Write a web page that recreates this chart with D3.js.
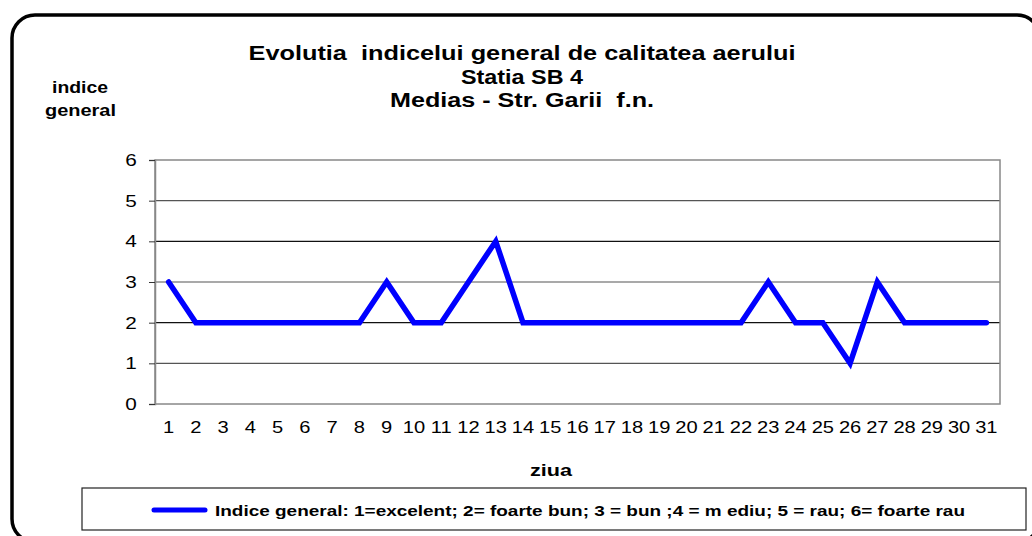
<!DOCTYPE html>
<html>
<head>
<meta charset="utf-8">
<title>Indice general SB 4</title>
<style>
  body { margin: 0; background: #fff; }
  text { font-family: "Liberation Sans", Arial, sans-serif; fill: #000; white-space: pre; }
</style>
</head>
<body>
<svg width="1032" height="536"></svg>
<script src="https://cdn.jsdelivr.net/npm/d3@7"></script>
<script>
// zilele lunii si indicele general
var days = d3.range(1, 32).map(String);
var indice = [3, 2, 2, 2, 2, 2, 2, 2, 3, 2, 2, 3, 4, 2, 2, 2, 2, 2, 2, 2, 2, 2, 3, 2, 2, 1, 3, 2, 2, 2, 2];
var yTicks = [0, 1, 2, 3, 4, 5, 6];
var titleLines = ["Evolutia  indicelui general de calitatea aerului", "Statia SB 4", "Medias - Str. Garii  f.n."];
var titleWidths = [547, 122, 264];
var legendLabel = "Indice general: 1=excelent; 2= foarte bun; 3 = bun ;4 = m ediu; 5 = rau; 6= foarte rau";

var svg = d3.select("svg");
var margin = {left: 155, right: 1000, top: 160, bottom: 404};
var stretch = 1.22; // textul din original e latit pe orizontala

// chenarul exterior rotunjit
svg.append("rect")
    .attr("x", 12).attr("y", 15)
    .attr("width", 1028).attr("height", 527)
    .attr("rx", 23).attr("ry", 23)
    .style("fill", "none")
    .style("stroke", "#000")
    .style("stroke-width", 3.5);

var x = d3.scaleBand().domain(days).range([margin.left, margin.right]);
var y = d3.scaleLinear().domain([0, 6]).range([margin.bottom, margin.top]);

// linii de grila
svg.append("g")
    .selectAll("line")
    .data(yTicks.filter(d => d > 0 && d < 6))
    .enter().append("line")
    .attr("x1", margin.left).attr("x2", margin.right)
    .attr("y1", d => y(d)).attr("y2", d => y(d))
    .style("stroke", d => d % 2 == 0 ? "#111" : "#555")
    .style("stroke-width", 1.2);

// chenarul zonei de desen
svg.append("rect")
    .attr("x", margin.left).attr("y", margin.top)
    .attr("width", margin.right - margin.left)
    .attr("height", margin.bottom - margin.top)
    .style("fill", "none")
    .style("stroke", "#888")
    .style("stroke-width", 1.5);

// axa y
var yAxis = svg.append("g")
    .attr("transform", `translate(${margin.left},0)`)
    .call(d3.axisLeft(y).tickValues(yTicks).tickSize(6).tickPadding(9).tickFormat(d3.format("d")));
yAxis.select(".domain").style("stroke", "#888").style("stroke-width", 1.5);
yAxis.selectAll(".tick line").style("stroke", "#333");
yAxis.selectAll("text")
    .style("font-size", "17px").style("fill", "#000")
    .attr("transform", `scale(${stretch},1)`);

// axa x
var xAxis = svg.append("g")
    .attr("transform", `translate(0,${margin.bottom})`)
    .call(d3.axisBottom(x).tickSize(0).tickPadding(17));
xAxis.select(".domain").remove();
xAxis.selectAll("text")
    .style("font-size", "16.5px").style("fill", "#000")
    .attr("transform", `scale(${stretch},1)`);

// seria
var line = d3.line()
    .x((d, i) => x(days[i]) + x.bandwidth() / 2)
    .y(d => y(d));
svg.append("path")
    .datum(indice)
    .attr("d", line)
    .style("fill", "none")
    .style("stroke", "#0000ff")
    .style("stroke-width", 5.5)
    .style("stroke-linejoin", "miter")
    .style("stroke-linecap", "round");

// titlu
svg.append("g").selectAll("text")
    .data(titleLines)
    .enter().append("text")
    .attr("x", (d, i) => 522 - titleWidths[i] / 2)
    .attr("y", (d, i) => 60 + i * 23.5)
    .attr("textLength", (d, i) => titleWidths[i])
    .attr("lengthAdjust", "spacingAndGlyphs")
    .style("font-size", "20px")
    .style("font-weight", "bold")
    .text(d => d);

// eticheta axei y
svg.append("g").selectAll("text")
    .data(["indice", "general"])
    .enter().append("text")
    .attr("x", (d, i) => [52, 45][i])
    .attr("y", (d, i) => 93 + i * 23)
    .attr("textLength", (d, i) => [56, 71][i])
    .attr("lengthAdjust", "spacingAndGlyphs")
    .style("font-size", "17px")
    .style("font-weight", "bold")
    .text(d => d);

// eticheta axei x
svg.append("text")
    .attr("x", 530).attr("y", 476)
    .attr("textLength", 42)
    .attr("lengthAdjust", "spacingAndGlyphs")
    .style("font-size", "17px")
    .style("font-weight", "bold")
    .text("ziua");

// legenda
svg.append("rect")
    .attr("x", 82).attr("y", 488)
    .attr("width", 944).attr("height", 42)
    .style("fill", "#fff")
    .style("stroke", "#222")
    .style("stroke-width", 1.2);
svg.append("line")
    .attr("x1", 154).attr("x2", 205)
    .attr("y1", 510).attr("y2", 510)
    .style("stroke", "#0000ff")
    .style("stroke-width", 5)
    .style("stroke-linecap", "round");
svg.append("text")
    .attr("x", 215).attr("y", 515.5)
    .attr("textLength", 750)
    .attr("lengthAdjust", "spacingAndGlyphs")
    .style("font-size", "15px")
    .style("font-weight", "bold")
    .text(legendLabel);
</script>
</body>
</html>
